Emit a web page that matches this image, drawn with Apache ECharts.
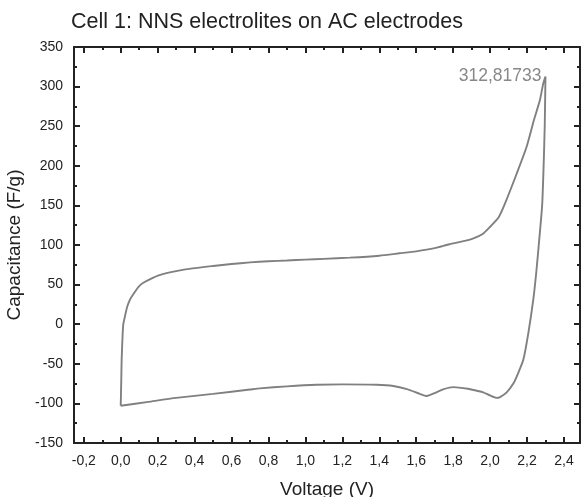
<!DOCTYPE html>
<html>
<head>
<meta charset="utf-8">
<script src="https://cdn.jsdelivr.net/npm/echarts@6/dist/echarts.min.js"></script>
<style>html,body{margin:0;padding:0;background:#fff}#c{width:583px;height:497px}</style>
</head>
<body>
<div id="c"></div>
<script>
const titleText = 'Cell 1: NNS electrolites on AC electrodes';
const xName = 'Voltage (V)';
const yName = 'Capacitance (F/g)';
const xMajorTicks = [-0.2, 0.0, 0.2, 0.4, 0.6, 0.8, 1.0, 1.2, 1.4, 1.6, 1.8, 2.0, 2.2, 2.4];
const xMinorTicks = [-0.1, 0.1, 0.3, 0.5, 0.7, 0.9, 1.1, 1.3, 1.5, 1.7, 1.9, 2.1, 2.3];
const voltage = [
  0.000, 0.003, 0.005, 0.010, 0.014, 0.023, 0.035, 0.050, 0.060, 0.080, 0.100, 0.120, 0.160, 0.210, 0.300,
  0.390, 0.500, 0.600, 0.700, 0.800, 0.900, 1.000, 1.100, 1.240, 1.400, 1.510, 1.600, 1.700, 1.780, 1.850,
  1.910, 1.960, 2.000, 2.044, 2.080, 2.144, 2.198, 2.238, 2.270, 2.288, 2.300,
  2.296, 2.290, 2.282, 2.266, 2.250, 2.234, 2.207, 2.180, 2.150, 2.126, 2.090, 2.054, 2.036, 2.000,
  1.963, 1.927, 1.880, 1.800, 1.750, 1.700, 1.657, 1.620, 1.550, 1.476, 1.386, 1.200, 1.061, 0.900,
  0.754, 0.700, 0.500, 0.300, 0.150, 0.000
];
const capacitance = [
  -103, -70, -45, -15, 0, 10, 22, 31, 35, 42, 48, 52, 57, 62, 67,
  70.5, 73.5, 76, 78, 79.5, 80.5, 81.5, 82.5, 84, 86.5, 89.5, 92, 96, 101, 104.5,
  108.5, 114, 123, 134, 152, 190, 224, 258, 283, 304, 312.81733,
  250, 200, 150, 106, 65, 31, -11.5, -45, -63, -75, -86, -92, -93, -90,
  -86, -84, -81.5, -79.5, -82, -87, -90.7, -88, -82, -78, -76.5, -76, -76.5, -78.5,
  -81, -82.5, -88, -93, -98, -103
];

const peakIdx = capacitance.indexOf(Math.max(...capacitance));
const seriesData = voltage.map((v, i) => [v, capacitance[i]]);
const fmt = v => String(v).replace('.', ',');

const XMIN = -0.253, XMAX = 2.487;
const axisCol = '#222';
const font = 'Arial, "Liberation Sans", sans-serif';

function xAx(pos, ticks, len, main) {
  return {
    type: 'value', min: XMIN, max: XMAX, position: pos,
    axisLine: { show: !!main, onZero: false, lineStyle: { color: axisCol, width: 2 } },
    axisTick: { show: true, inside: true, length: len, customValues: ticks, lineStyle: { color: axisCol, width: 2 } },
    axisLabel: main === 'label' ? {
      show: true, customValues: xMajorTicks, formatter: v => v.toFixed(1).replace('.', ','),
      fontSize: 14, color: axisCol, fontFamily: font, margin: 11
    } : { show: false },
    splitLine: { show: false },
    name: main === 'label' ? xName : '',
    nameLocation: 'middle', nameGap: 37,
    nameTextStyle: { fontSize: 19, color: axisCol, fontFamily: font }
  };
}
function yAx(pos, main) {
  return {
    type: 'value', min: -150, max: 350, interval: 50, position: pos,
    axisLine: { show: true, onZero: false, lineStyle: { color: axisCol, width: 2 } },
    axisTick: { show: true, inside: true, length: 6, lineStyle: { color: axisCol, width: 2 } },
    minorTick: { show: true, splitNumber: 2, length: 3, lineStyle: { color: axisCol, width: 2 } },
    axisLabel: main ? { show: true, fontSize: 14, color: axisCol, fontFamily: font, margin: 11 } : { show: false },
    splitLine: { show: false }, minorSplitLine: { show: false },
    name: main ? yName : '', nameLocation: 'middle', nameGap: 50,
    nameTextStyle: { fontSize: 19, color: axisCol, fontFamily: font }
  };
}

const chart = echarts.init(document.getElementById('c'), null, { renderer: 'canvas' });
chart.setOption({
  animation: false,
  backgroundColor: '#fff',
  title: {
    text: titleText, left: 66, top: 6,
    textStyle: { fontSize: 21.5, fontWeight: 'normal', color: axisCol, fontFamily: font }
  },
  grid: { left: 74, right: 3, top: 47, bottom: 54, containLabel: false, outerBoundsMode: 'none' },
  xAxis: [
    xAx('bottom', xMajorTicks, 6, 'label'),
    xAx('bottom', xMinorTicks, 3, false),
    xAx('top', xMajorTicks, 6, true),
    xAx('top', xMinorTicks, 3, false)
  ],
  yAxis: [yAx('left', true), yAx('right', false)],
  series: [{
    type: 'line', xAxisIndex: 0, yAxisIndex: 0,
    data: seriesData, showSymbol: false, symbol: 'none', smooth: 0.2,
    lineStyle: { color: '#808080', width: 1.9 },
    markPoint: {
      symbol: 'circle', symbolSize: 0, silent: true,
      data: [{ coord: seriesData[peakIdx], value: capacitance[peakIdx] }],
      label: {
        show: true, position: 'left', distance: 4,
        formatter: p => fmt(p.value),
        fontSize: 17.5, color: '#888', fontFamily: font
      }
    }
  }]
});
</script>
</body>
</html>
